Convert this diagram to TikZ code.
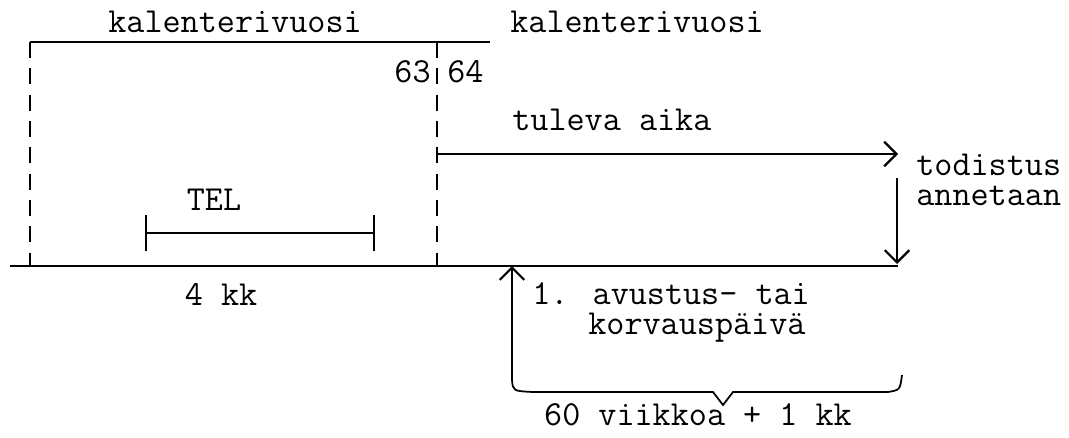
\documentclass[tikz,border=0pt]{standalone}
\usepackage{fontspec}
\usetikzlibrary{positioning}
\usetikzlibrary{arrows.meta}

\tikzset{
  txt/.style={font=\ttfamily\fontsize{20}{24}\selectfont, inner sep=0pt},
  viiva/.style={line width=1pt},
  katko/.style={line width=1.2pt, dash pattern=on 9pt off 6pt},
  nuoli/.style={line width=1pt, -{Straight Barb[length=7pt,width=14pt,line width=1.3pt]}},
}

\begin{document}
\begin{tikzpicture}[x=0.02cm, y=-0.02cm]
                \useasboundingbox (0,0) rectangle (1069,437);
                % aikajanan pisteet
                \coordinate (alku) at (30,42);
                \coordinate (raja) at (437,42);
                \coordinate (ylaloppu) at (490,42);
                \coordinate (alkuala) at (30,266);
                \coordinate (raja-ala) at (437,266);
                \coordinate (janavasen) at (10,266);
                \coordinate (janaoikea) at (898,266);
                \coordinate (tulalku) at (437,154);
                \coordinate (tulloppu) at (898,154);
                \coordinate (todalku) at (897,178);
                \coordinate (todloppu) at (897,264);
                \coordinate (avuala) at (512,266);
                \coordinate (telvasen) at (145,233);
                \coordinate (teloikea) at (375,233);

                \node[txt, anchor=base west] (kal1) at (108,32) {kalenterivuosi};
                \node[txt, anchor=base west] (kal2) at (510,32) {kalenterivuosi};
                \node[txt, anchor=base east] (v63) at (431,82) {63};
                \node[txt, anchor=base west] (v64) at (447,82) {64};
                \node[txt, anchor=base west] (tul) at (512,130) {tuleva aika};
                \node[txt, anchor=base west] (tod1) at (916,175) {todistus};
                \node[txt, anchor=base west] (tod2) at (916,205) {annetaan};
                \node[txt, anchor=base] (tel) at (214,210) {TEL};
                \node[txt, anchor=base] (kk4) at (221,305) {4 kk};
                \node[txt, anchor=base west] (avu1) at (532,304) {1. avustus- tai};
                \node[txt, anchor=base west] (avu2) at (588,334) {korvauspäivä};
                \node[txt, anchor=base] (vk) at (698,425) {60 viikkoa + 1 kk};

                \draw[viiva] (alku) -- (ylaloppu);
                \draw[viiva] (janavasen) -- (janaoikea);
                \draw[katko] (alku) -- (alkuala);
                \draw[katko] (raja) -- (raja-ala);
                \draw[nuoli] (tulalku) -- (tulloppu);
                \draw[nuoli] (todalku) -- (todloppu);
                \draw[viiva, {Bar[width=20pt]}-{Bar[width=20pt]}] (telvasen) -- (teloikea);

                % aaltosulje, vasen haara on nuoli
                \draw[nuoli] (902,375) .. controls (900,390) .. (888,392) -- (733,392) -- (723,405) -- (713,392)
                    -- (533,392) .. controls (513,391) .. (512,380) -- (avuala);
            \end{tikzpicture}
\end{document}
